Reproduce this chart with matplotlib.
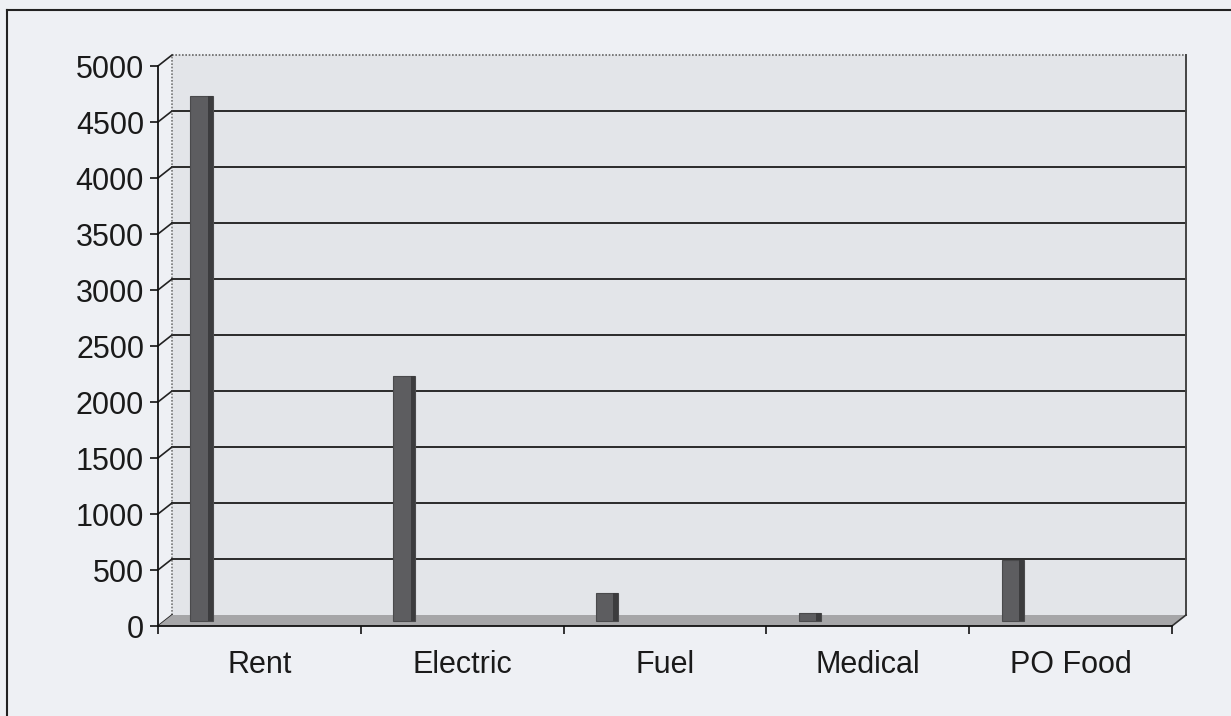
import matplotlib
matplotlib.use("Agg")
import matplotlib.pyplot as plt
import numpy as np
from matplotlib.transforms import Affine2D, IdentityTransform
from matplotlib.patches import Polygon, Rectangle
from matplotlib.lines import Line2D

categories = ["Rent", "Electric", "Fuel", "Medical", "PO Food"]
values = [4680, 2180, 250, 70, 540]
y_ticks = list(range(0, 5001, 500))

plt.rcParams["font.family"] = ["Liberation Sans", "DejaVu Sans"]

W, H = 1231, 716
fig = plt.figure(figsize=(W / 100, H / 100), dpi=100)
fig.patch.set_facecolor("#eef0f4")

ax = fig.add_axes([158 / W, 90 / H, (1172 - 158) / W, (650 - 90) / H])
n = len(categories)
ax.set_xlim(0, n)
ax.set_ylim(0, y_ticks[-1])
ax.set_autoscale_on(False)
ax.patch.set_visible(False)

# depth offset (pixels) of the back wall and of the column plane
DX, DY = 14, 11
back = ax.transData + Affine2D().translate(DX, DY)
mid = ax.transData + Affine2D().translate(DX / 2, DY / 2)
ident = IdentityTransform()

# back wall
ax.add_patch(Rectangle((0, 0), n, y_ticks[-1], transform=back, clip_on=False,
                       facecolor="#e3e5e9", edgecolor="none", zorder=0))
for v in y_ticks[1:-1]:
    ax.plot([0, n], [v, v], transform=back, color="#1c1c1c", lw=1.3, zorder=1, clip_on=False)
ax.plot([0, n], [y_ticks[-1]] * 2, transform=back, color="#666", lw=1.2,
        ls=(0, (1, 1)), zorder=1, clip_on=False)
ax.plot([0, 0], [0, y_ticks[-1]], transform=back, color="#777", lw=1.2,
        ls=(0, (1, 1)), zorder=1, clip_on=False)
ax.plot([n, n], [0, y_ticks[-1]], transform=back, color="#444", lw=1.4, zorder=1, clip_on=False)

# diagonal connectors from the front value axis to the wall
for v in y_ticks:
    p0 = ax.transData.transform((0, v))
    ax.plot([p0[0], p0[0] + DX], [p0[1], p0[1] + DY], transform=ident,
            color="#222", lw=1.2, zorder=2, clip_on=False)

# floor
f0 = ax.transData.transform((0, 0))
f1 = ax.transData.transform((n, 0))
floor = [f0, f1, f1 + (DX, DY), f0 + (DX, DY)]
ax.add_patch(Polygon(floor, closed=True, transform=ident, facecolor="#a6a6a8",
                     edgecolor="none", zorder=2, clip_on=False))
ax.plot([f1[0], f1[0] + DX], [f1[1], f1[1] + DY], transform=ident, color="#333",
        lw=1.2, zorder=3, clip_on=False)

# columns: front face plus darker side strip
x = np.arange(n) + 0.18
bw = 0.11
ax.bar(x, values, width=bw, transform=mid, color="#5d5d60", edgecolor="#4a4a4c",
       lw=0.8, zorder=4, clip_on=False)
ax.bar(x + bw / 2 - 0.012, values, width=0.024, transform=mid, color="#3c3c3e",
       edgecolor="none", zorder=5, clip_on=False)

# axes styling
for s in ("top", "right"):
    ax.spines[s].set_visible(False)
for s in ("left", "bottom"):
    ax.spines[s].set_color("#111")
    ax.spines[s].set_linewidth(1.3)
    ax.spines[s].set_zorder(6)

ax.set_yticks(y_ticks)
ax.set_yticklabels([str(v) for v in y_ticks])
ax.tick_params(axis="y", direction="out", length=6, width=1.2, color="#111",
               labelsize=22, pad=4, labelcolor="#1a1a1a")
ax.set_xticks(np.arange(n + 1))
ax.set_xticklabels([])
ax.tick_params(axis="x", which="major", direction="out", length=6, width=1.2, color="#111")
ax.set_xticks(np.arange(n) + 0.5, minor=True)
ax.set_xticklabels(categories, minor=True)
ax.tick_params(axis="x", which="minor", length=0, labelsize=22, pad=17, labelcolor="#1a1a1a")

# outer frame edges
fig.add_artist(Line2D([7 / W, 7 / W], [0, 1 - 10 / H], transform=fig.transFigure,
                      color="#222", lw=1.5))
fig.add_artist(Line2D([7 / W, 1], [1 - 10 / H, 1 - 10 / H], transform=fig.transFigure,
                      color="#222", lw=1.5))

fig.savefig("out.png", dpi=100, facecolor=fig.get_facecolor())
